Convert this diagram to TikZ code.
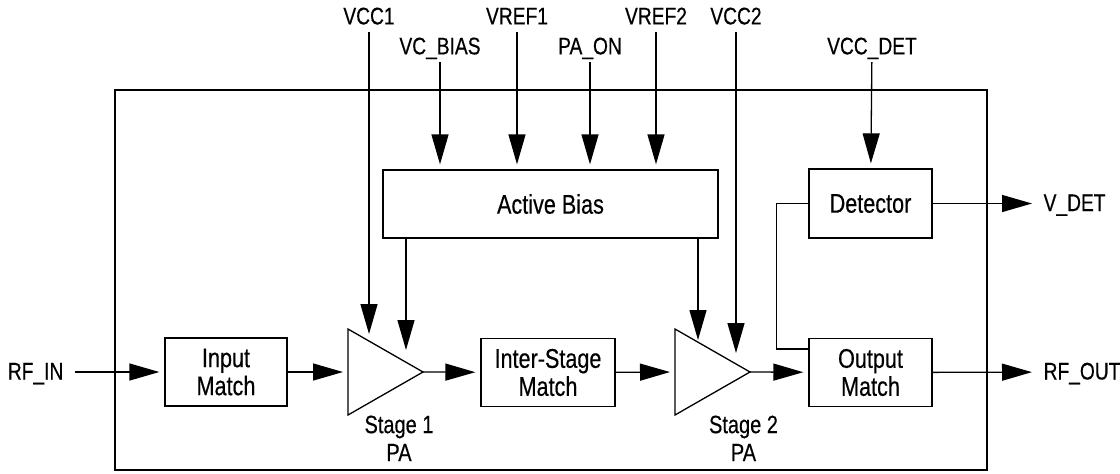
\documentclass[tikz,border=0pt]{standalone}
\usepackage{fontspec}
\setmainfont{Liberation Sans}[FakeStretch=0.8, FakeBold=0.4]
\usetikzlibrary{arrows.meta,shapes.geometric}

\begin{document}
\begin{tikzpicture}[
    x=0.5pt, y=-0.5pt,
    line width=0.65pt,
    >={Triangle[length=15pt,width=8.5pt]},
    blockbox/.style={draw, minimum width=61pt, minimum height=34pt, align=center, inner sep=1pt, font=\fontsize{13.5}{14}\selectfont},
    ampbox/.style={draw, isosceles triangle, isosceles triangle stretches, minimum width=43pt, minimum height=37.5pt, inner sep=0pt, outer sep=0pt},
    pinlabel/.style={inner xsep=5.5pt, inner ysep=2.5pt, text height=8.5pt, text depth=1pt, font=\fontsize{12}{13}\selectfont},
    stagelabel/.style={align=center, inner sep=0pt, anchor=north, font=\fontsize{12.5}{14}\selectfont},
    sig/.style={->, shorten >=2.5pt},
]
\useasboundingbox (0,0) rectangle (1120,473);

% chip outline
\node[draw, line width=1.4pt, minimum width=436pt, minimum height=190pt, inner sep=0pt] (chip) at (551,280) {};

% RF chain
\node[blockbox] (inmatch) at (226,372) {Input\\Match};
\node[ampbox, anchor=apex] (stageone) at (423,372) {};
\node[blockbox, minimum width=67pt] (intermatch) at (548,372.5) {Inter-Stage\\Match};
\node[ampbox, anchor=apex] (stagetwo) at (750,372) {};
\node[blockbox, minimum width=61.5pt] (outmatch) at (870.5,372.5) {Output\\Match};

\node[stagelabel] (stageonelbl) at (399,415) {Stage 1\\PA};
\node[stagelabel] (stagetwolbl) at (743.5,415) {Stage 2\\PA};

% bias and detector
\node[blockbox, minimum width=167.5pt] (activebias) at (550.5,204) {Active Bias};
\node[blockbox, minimum width=61.5pt, minimum height=34.5pt] (detector) at (870.5,203.5) {Detector};

% pins
\node[pinlabel, anchor=east] (rfin) at (75,372) {RF\_IN};
\node[pinlabel, anchor=west] (rfout) at (1032,372) {RF\_OUT};
\node[pinlabel, anchor=west] (vdet) at (1032,203.5) {V\_DET};
\node[pinlabel, anchor=south] (vccone) at (369,32) {VCC1};
\node[pinlabel, anchor=south] (vrefone) at (517,32) {VREF1};
\node[pinlabel, anchor=south] (vreftwo) at (656,32) {VREF2};
\node[pinlabel, anchor=south] (vcctwo) at (736,32) {VCC2};
\node[pinlabel, anchor=south] (vcbias) at (440,62) {VC\_BIAS};
\node[pinlabel, anchor=south] (paon) at (590,62) {PA\_ON};
\node[pinlabel, anchor=south] (vccdet) at (872,62) {VCC\_DET};

% arrow ends on the amplifier edges
\coordinate (s1supply) at (369,334);
\coordinate (s1bias) at (406,350);
\coordinate (s2bias) at (698,340);
\coordinate (s2supply) at (736,353);

\draw[sig] (rfin) -- (inmatch);
\draw[sig] (inmatch) -- (stageone.lower side);
\draw[sig] (stageone.apex) -- (intermatch);
\draw[sig] (intermatch) -- (stagetwo.lower side);
\draw[sig] (stagetwo.apex) -- (outmatch);
\draw[->] (outmatch) -- (rfout);
\draw[->] (detector) -- (vdet);
\draw (detector.west) -- ++(-32,0) |- ([yshift=-5.5pt]outmatch.north west);

\draw[sig] (vcbias) -- (vcbias |- activebias.north);
\draw[sig] (vrefone) -- (vrefone |- activebias.north);
\draw[sig] (paon) -- (paon |- activebias.north);
\draw[sig] (vreftwo) -- (vreftwo |- activebias.north);
\draw[sig] (vccdet) -- (detector);

\draw[->] (vccone) -- (s1supply);
\draw[->] (vcctwo) -- (s2supply);
\draw[->] (activebias.south -| s1bias) -- (s1bias);
\draw[->] (activebias.south -| s2bias) -- (s2bias);

\end{tikzpicture}
\end{document}
